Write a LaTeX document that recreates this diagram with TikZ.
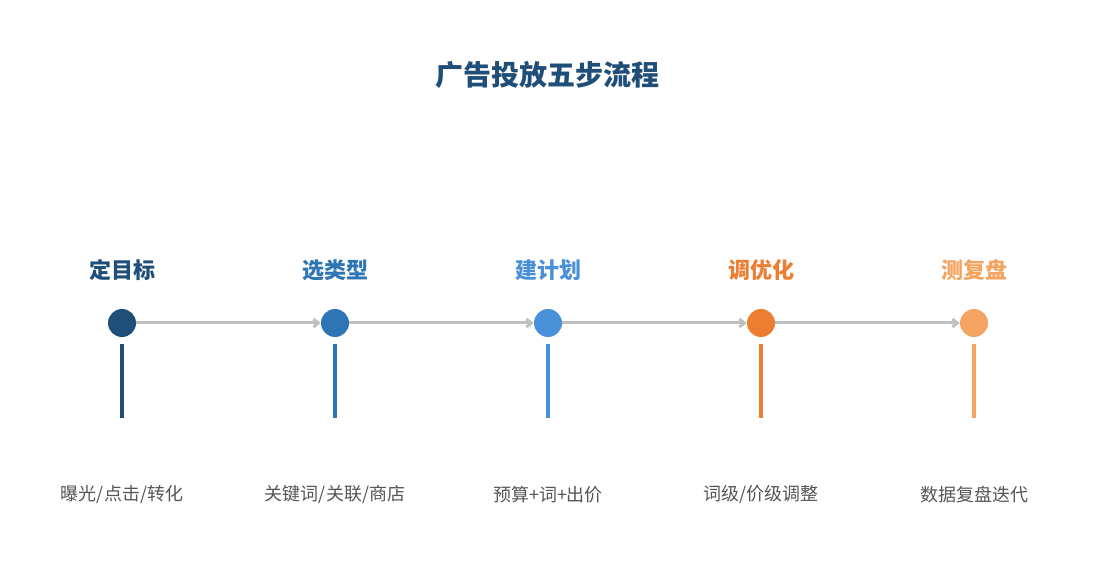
\documentclass[tikz,border=0pt]{standalone}
\usepackage{fontspec}
\newfontfamily\cjk{Noto Sans CJK SC}
\usetikzlibrary{arrows.meta}
\definecolor{c1}{HTML}{1F4E79}
\definecolor{c2}{HTML}{2E75B6}
\definecolor{c3}{HTML}{4A90D9}
\definecolor{c4}{HTML}{ED7D31}
\definecolor{c5}{HTML}{F4A460}
\definecolor{ln}{HTML}{C0C0C0}
\definecolor{tx}{HTML}{555555}
\begin{document}
\begin{tikzpicture}[x=1pt,y=-1pt,
  dot/.style={circle,fill=#1,minimum size=28pt,inner sep=0pt},
  head/.style={font=\cjk\fontsize{22}{25}\selectfont\bfseries,text=#1},
  desc/.style={font=\cjk\fontsize{18}{21}\selectfont,text=tx},
  conn/.style={draw=ln,line width=3pt,-{Straight Barb[length=5pt,width=8pt]}},
  stem/.style={draw=#1,line width=4pt}]
\useasboundingbox (0,0) rectangle (1095,585);
\node[font=\cjk\fontsize{28}{32}\selectfont\bfseries,text=c1] (title) at (547,75) {广告投放五步流程};
\foreach \i/\x/\c/\h/\d in {1/122/c1/定目标/{曝光/点击/转化},2/335/c2/选类型/{关键词/关联/商店},3/548/c3/建计划/{预算+词+出价},4/761/c4/调优化/{词级/价级调整},5/974/c5/测复盘/{数据复盘迭代}}{
  \node[dot=\c] (d\i) at (\x,323) {};
  \node[head=\c] (h\i) at (\x,270) {\h};
  \node[desc] (t\i) at (\x,495) {\d};
  \coordinate (s\i) at (\x,344);
  \coordinate (e\i) at (\x,418);
  \draw[stem=\c] (s\i) -- (e\i);
}
\foreach \a/\b in {1/2,2/3,3/4,4/5}{
  \draw[conn] (d\a) -- (d\b);
}
\end{tikzpicture}
\end{document}
